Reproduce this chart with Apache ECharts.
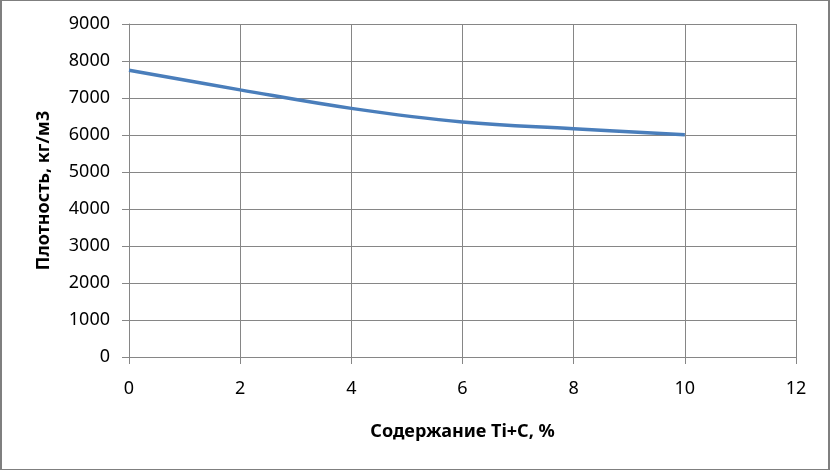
<!DOCTYPE html>
<html>
<head>
<meta charset="utf-8">
<script src="https://cdn.jsdelivr.net/npm/echarts@6/dist/echarts.min.js"></script>
<style>
html,body{margin:0;padding:0;background:#fff;}
#wrap{position:relative;width:830px;height:470px;}
#chart{position:absolute;left:0;top:0;width:830px;height:470px;}
#frame{position:absolute;left:0;top:0;width:830px;height:470px;box-sizing:border-box;
border-left:2px solid #7f7f7f;border-top:1px solid #7f7f7f;border-right:2px solid #7f7f7f;border-bottom:1px solid #7f7f7f;pointer-events:none;}
</style>
</head>
<body>
<div id="wrap"><div id="chart"></div><div id="frame"></div></div>
<script>
var xValues = [0, 2, 4, 6, 8, 10];
var densityValues = [7750, 7220, 6720, 6350, 6170, 6010];
var xAxisTitle = 'Содержание Ti+C, %';
var yAxisTitle = 'Плотность, кг/м3';

var FONT = '"Noto Sans", "Open Sans", sans-serif';
var chart = echarts.init(document.getElementById('chart'), null, {renderer: 'canvas'});
var seriesData = xValues.map(function (x, i) { return [x, densityValues[i]]; });
var plain = function (v) { return String(v); };

chart.setOption({
  animation: false,
  backgroundColor: '#ffffff',
  grid: {left: 129, right: 34, top: 24, bottom: 113, containLabel: false},
  xAxis: {
    type: 'value', min: 0, max: 12, interval: 2,
    name: xAxisTitle, nameLocation: 'middle', nameGap: 66,
    nameTextStyle: {fontFamily: FONT, fontSize: 18, fontWeight: 'bold', color: '#000'},
    axisLine: {show: true, lineStyle: {color: '#868686', width: 1}},
    axisTick: {show: true, length: 7, lineStyle: {color: '#868686'}},
    axisLabel: {fontFamily: FONT, fontSize: 18, color: '#000', margin: 23, formatter: plain},
    splitLine: {show: true, lineStyle: {color: '#868686', width: 1}}
  },
  yAxis: {
    type: 'value', min: 0, max: 9000, interval: 1000,
    name: yAxisTitle, nameLocation: 'middle', nameGap: 76, nameRotate: 90,
    nameTextStyle: {fontFamily: FONT, fontSize: 18, fontWeight: 'bold', color: '#000'},
    axisLine: {show: true, lineStyle: {color: '#868686', width: 1}},
    axisTick: {show: true, length: 7, lineStyle: {color: '#868686'}},
    axisLabel: {fontFamily: FONT, fontSize: 18, color: '#000', margin: 19, formatter: plain},
    splitLine: {show: true, lineStyle: {color: '#868686', width: 1}}
  },
  series: [{
    type: 'line',
    data: seriesData,
    smooth: 0.4,
    showSymbol: false,
    symbol: 'none',
    lineStyle: {color: '#4a7ebb', width: 3.5}
  }]
});
</script>
</body>
</html>
